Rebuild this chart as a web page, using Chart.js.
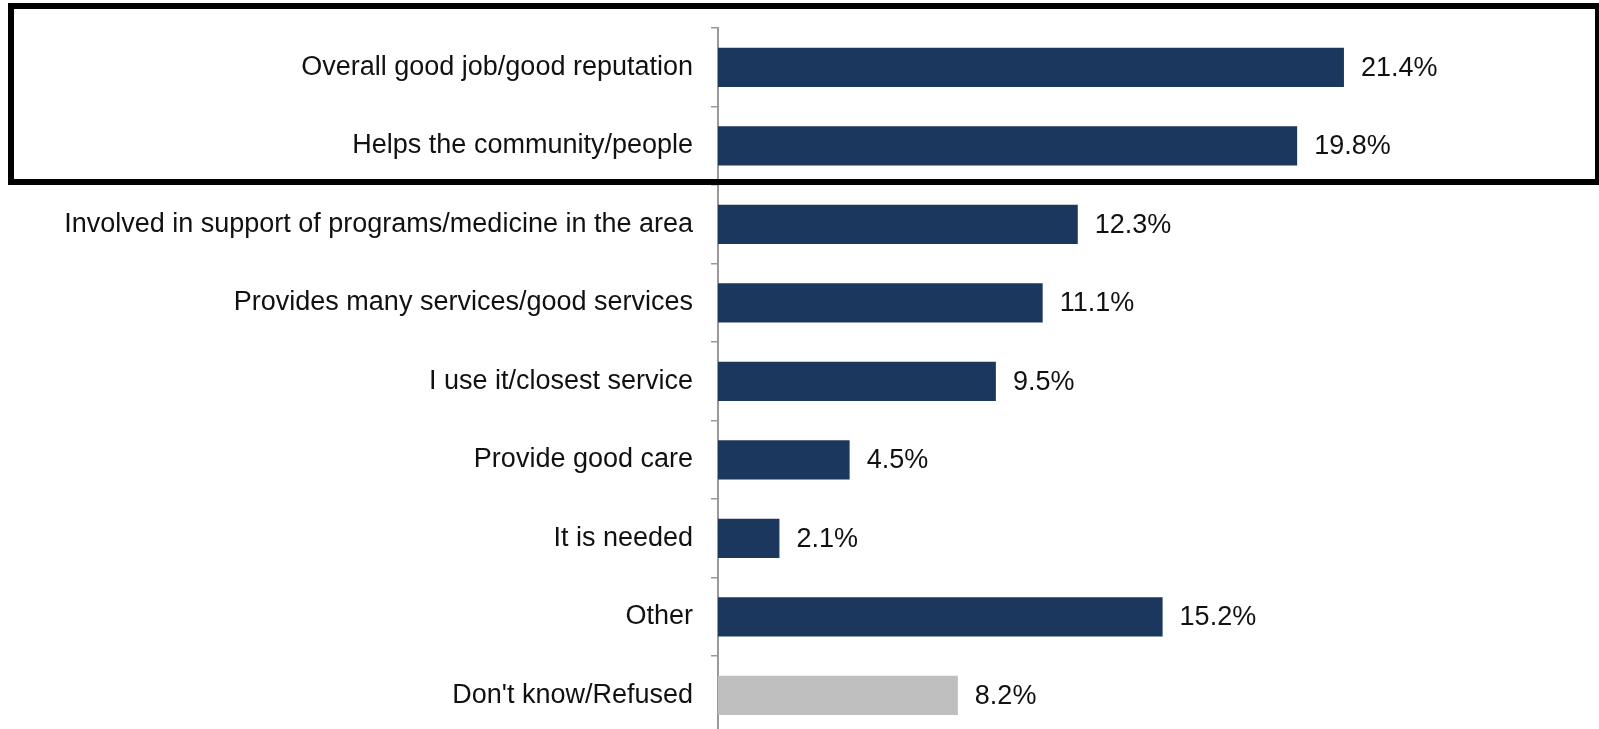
<!DOCTYPE html>
<html>
<head>
<meta charset="utf-8">
<script src="https://cdn.jsdelivr.net/npm/chart.js@4/dist/chart.umd.min.js"></script>
<style>
    html, body { margin: 0; padding: 0; background: #fff; overflow: hidden; }
    canvas { display: block; }
</style>
</head>
<body>
<canvas id="reasons" width="1599" height="740"></canvas>
<script>
const categories = [
    "Overall good job/good reputation",
    "Helps the community/people",
    "Involved in support of programs/medicine in the area",
    "Provides many services/good services",
    "I use it/closest service",
    "Provide good care",
    "It is needed",
    "Other",
    "Don't know/Refused"
];
const percentages = [21.4, 19.8, 12.3, 11.1, 9.5, 4.5, 2.1, 15.2, 8.2];
const barColors = ["#1c375e", "#1c375e", "#1c375e", "#1c375e", "#1c375e", "#1c375e", "#1c375e", "#1c375e", "#bfbfbf"];

const FONT = '"Liberation Sans", Arial, Helvetica, sans-serif';

// percentage text to the right of each bar
const valueLabels = {
    id: "valueLabels",
    afterDatasetsDraw(chart) {
        const ctx = chart.ctx;
        const meta = chart.getDatasetMeta(0);
        ctx.save();
        ctx.font = `27px ${FONT}`;
        ctx.fillStyle = "#111";
        ctx.textAlign = "left";
        ctx.textBaseline = "middle";
        meta.data.forEach((bar, i) => {
            ctx.fillText(percentages[i].toFixed(1) + "%", bar.x + 17, bar.y + 1);
        });
        ctx.restore();
    }
};

// heavy frame around the two leading reasons
const highlightBox = {
    id: "highlightBox",
    afterDraw(chart) {
        const y = chart.scales.y;
        const band = y.getPixelForValue(1) - y.getPixelForValue(0);
        const bottom = y.getPixelForValue(1) + band / 2 - 3;
        const ctx = chart.ctx;
        ctx.save();
        ctx.strokeStyle = "#000";
        ctx.lineWidth = 6;
        ctx.strokeRect(11, 6, 1587, bottom - 6);
        ctx.restore();
    }
};

new Chart(document.getElementById("reasons"), {
    type: "bar",
    data: {
        labels: categories,
        datasets: [{
            data: percentages,
            backgroundColor: barColors,
            barPercentage: 0.5,
            categoryPercentage: 1.0
        }]
    },
    options: {
        indexAxis: "y",
        responsive: false,
        animation: false,
        layout: { padding: { top: 28, right: 3.5, bottom: 5.5, left: 0 } },
        plugins: {
            legend: { display: false },
            tooltip: { enabled: false }
        },
        scales: {
            x: {
                display: false,
                min: 0,
                max: 30
            },
            y: {
                afterFit(scale) {
                    scale.width = 718;
                    // let the layout padding alone decide the plot's top and bottom
                    scale.paddingTop = 0;
                    scale.paddingBottom = 0;
                },
                border: { display: true, color: "#999", width: 2 },
                grid: {
                    offset: true,
                    drawOnChartArea: false,
                    drawTicks: true,
                    tickLength: 7,
                    color: "#999",
                    lineWidth: 1.5
                },
                ticks: {
                    color: "#111",
                    padding: 18,
                    font: { family: FONT, size: 27 }
                }
            }
        }
    },
    plugins: [valueLabels, highlightBox]
});
</script>
</body>
</html>
